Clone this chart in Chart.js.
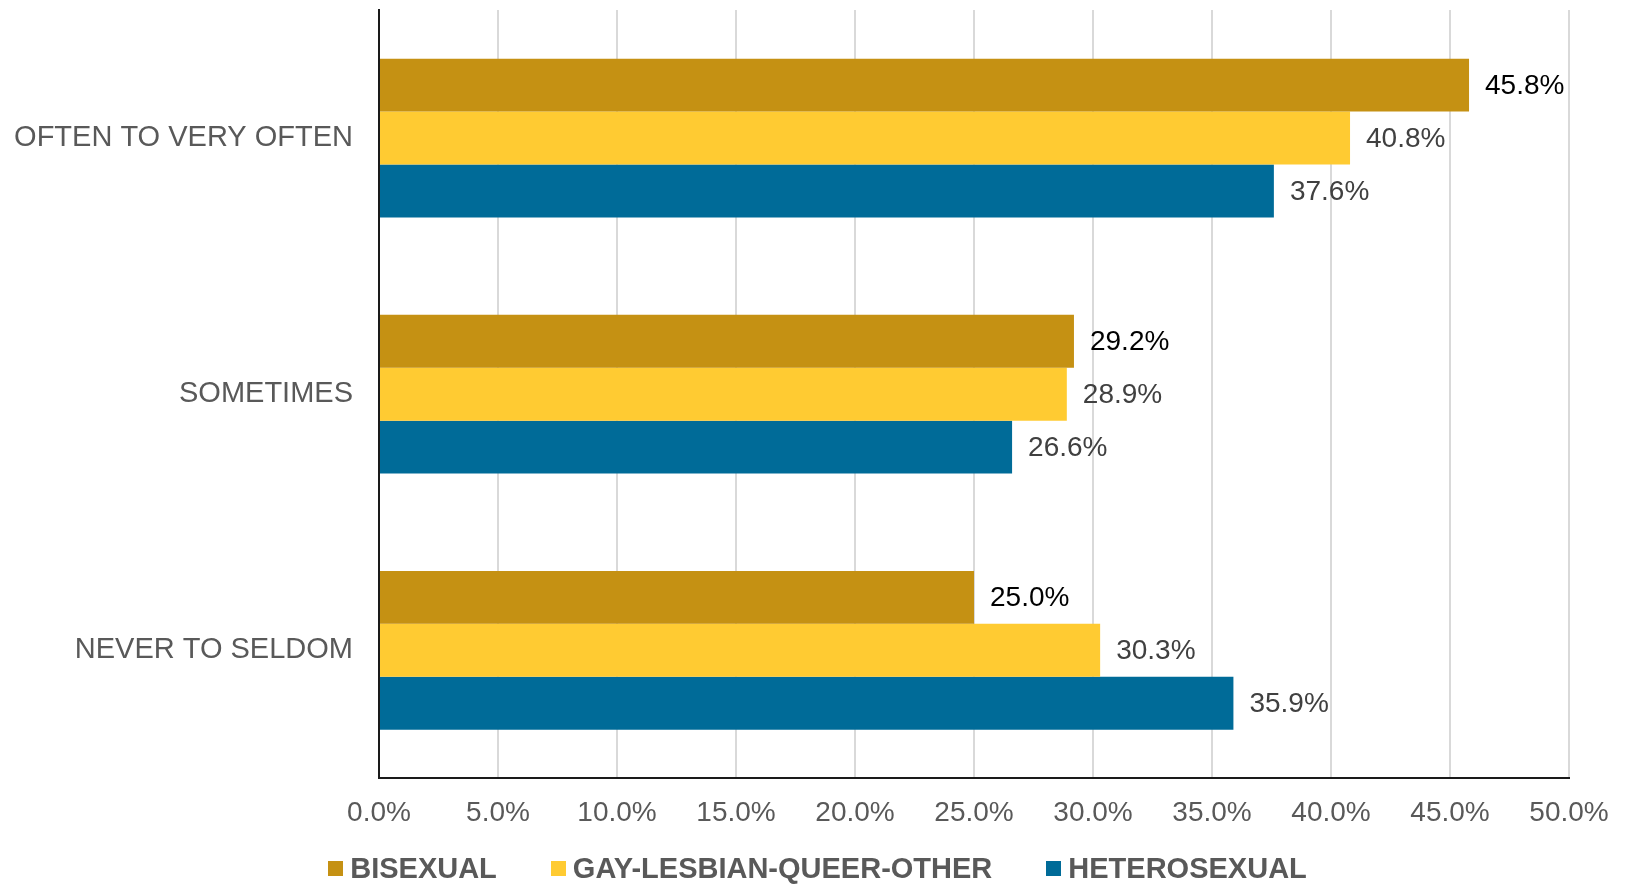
<!DOCTYPE html>
<html>
<head>
<meta charset="utf-8">
<script src="https://cdn.jsdelivr.net/npm/chart.js@4.4.1/dist/chart.umd.min.js"></script>
<style>
  html, body { margin: 0; padding: 0; background: #fff; }
  #wrap { position: relative; width: 1625px; height: 884px; }
  #legend {
    position: absolute; left: 0; right: 0; top: 850px; height: 36px;
    display: flex; justify-content: center; align-items: center;
    padding-left: 10px;
    font: bold 29px 'Liberation Sans', Arial, sans-serif; color: #595959;
  }
  .item { display: flex; align-items: center; margin: 0 27px; }
  .swatch { width: 15px; height: 15px; margin-right: 7px; }
</style>
</head>
<body>
<div id="wrap">
  <canvas id="chart" width="1625" height="884"></canvas>
  <div id="legend"></div>
</div>
<script>
// Monthly frequency by orientation — horizontal grouped bars
const categories = ['OFTEN TO VERY OFTEN', 'SOMETIMES', 'NEVER TO SELDOM'];
const seriesNames = ['BISEXUAL', 'GAY-LESBIAN-QUEER-OTHER', 'HETEROSEXUAL'];
const bisexual = [45.8, 29.2, 25.0];
const gayLesbianQueerOther = [40.8, 28.9, 30.3];
const heterosexual = [37.6, 26.6, 35.9];
const xTicks = [0, 5, 10, 15, 20, 25, 30, 35, 40, 45, 50];

const COLORS = ['#C59113', '#FFCB32', '#006B98'];
const LABEL_COLORS = ['#000000', '#404040', '#404040'];
const FONT = "'Liberation Sans', Arial, sans-serif";

// value labels at the end of each bar
const valueLabels = {
  id: 'valueLabels',
  afterDatasetsDraw(chart) {
    const ctx = chart.ctx;
    ctx.save();
    ctx.font = '28px ' + FONT;
    ctx.textAlign = 'left';
    ctx.textBaseline = 'middle';
    chart.data.datasets.forEach((ds, i) => {
      ctx.fillStyle = LABEL_COLORS[i];
      chart.getDatasetMeta(i).data.forEach((bar, j) => {
        ctx.fillText(ds.data[j].toFixed(1) + '%', bar.x + 16, bar.y + 1);
      });
    });
    ctx.restore();
  }
};

const seriesData = [bisexual, gayLesbianQueerOther, heterosexual];

new Chart(document.getElementById('chart').getContext('2d'), {
  type: 'bar',
  data: {
    labels: categories,
    datasets: seriesNames.map((name, i) => ({
      label: name,
      data: seriesData[i],
      backgroundColor: COLORS[i],
      borderWidth: 0,
      categoryPercentage: 0.62,
      barPercentage: 1.0,
    })),
  },
  options: {
    responsive: false,
    animation: false,
    indexAxis: 'y',
    layout: { padding: { left: 11, right: 56, top: 10, bottom: 36 } },
    plugins: {
      legend: { display: false },
      tooltip: { enabled: false },
    },
    scales: {
      x: {
        min: 0,
        max: 50,
        afterBuildTicks: axis => { axis.ticks = xTicks.map(v => ({ value: v })); },
        grid: { color: '#D9D9D9', lineWidth: 2, drawTicks: false },
        border: { color: '#1a1a1a', width: 2 },
        ticks: {
          color: '#595959',
          padding: 18,
          font: { family: FONT, size: 28 },
          callback: v => v.toFixed(1) + '%',
        },
        afterFit: axis => {
          axis.paddingLeft = 0;
          axis.paddingRight = 0;
        },
      },
      y: {
        grid: { display: false, drawTicks: false },
        border: { color: '#1a1a1a', width: 2 },
        ticks: {
          color: '#595959',
          padding: 26,
          font: { family: FONT, size: 29 },
        },
        afterFit: axis => {
          axis.width = 368;
          axis.paddingTop = 0;
          axis.paddingBottom = 0;
        },
      },
    },
  },
  plugins: [valueLabels],
});

// legend below the plot
const legend = document.getElementById('legend');
seriesNames.forEach((name, i) => {
  const item = document.createElement('div');
  item.className = 'item';
  const sw = document.createElement('span');
  sw.className = 'swatch';
  sw.style.background = COLORS[i];
  const txt = document.createElement('span');
  txt.textContent = name;
  item.appendChild(sw);
  item.appendChild(txt);
  legend.appendChild(item);
});
</script>
</body>
</html>
